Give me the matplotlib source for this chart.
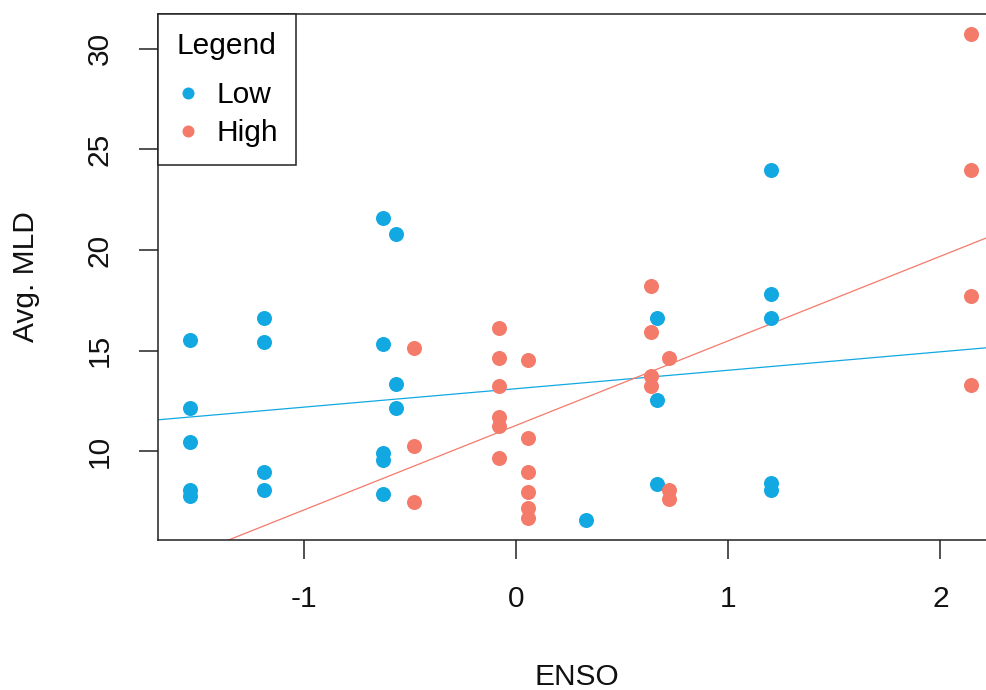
import numpy as np
import matplotlib
matplotlib.use("Agg")
import matplotlib.pyplot as plt

plt.rcParams['font.family'] = ['Liberation Sans', 'DejaVu Sans']

# ENSO index vs. average mixed layer depth, split by group
low_enso = [-1.538, -1.538, -1.538, -1.538, -1.538,
            -1.189, -1.189, -1.189, -1.189,
            -0.631, -0.631, -0.631, -0.631, -0.631,
            -0.566, -0.566, -0.566,
            0.330,
            0.662, 0.662, 0.662,
            1.200, 1.200, 1.200, 1.200, 1.200]
low_mld = [15.53, 12.15, 10.46, 8.07, 7.77,
           16.61, 15.41, 8.98, 8.07,
           21.58, 15.31, 9.90, 9.56, 7.86,
           20.80, 13.33, 12.13,
           6.58,
           16.63, 12.54, 8.37,
           23.98, 17.81, 16.64, 8.43, 8.07]

high_enso = [-0.481, -0.481, -0.481,
             -0.083, -0.083, -0.083, -0.083, -0.083, -0.083,
             0.055, 0.055, 0.055, 0.055, 0.055, 0.055,
             0.635, 0.635, 0.635, 0.635,
             0.718, 0.718, 0.718,
             2.145, 2.145, 2.145, 2.145]
high_mld = [15.11, 10.26, 7.46,
            16.11, 14.62, 13.24, 11.68, 11.25, 9.65,
            14.53, 10.67, 8.95, 7.96, 7.16, 6.67,
            18.21, 15.91, 13.74, 13.24,
            14.62, 8.07, 7.62,
            30.74, 23.98, 17.70, 13.31]

group_names = ["Low", "High"]
group_colors = ["#12A8E2", "#F47A6A"]

x_ticks = [-1, 0, 1, 2]
y_ticks = [10, 15, 20, 25, 30]

W, H = 987, 690
fig = plt.figure(figsize=(W / 100, H / 100), dpi=100)
left, right, bottom, top = 158, 1001.4, 540, 14
ax = fig.add_axes([left / W, 1 - bottom / H, (right - left) / W, (bottom - top) / H])

xlim = (-1.690, 2.288)
ylim = (5.586, 31.73)
ax.set_xlim(*xlim)
ax.set_ylim(*ylim)

fs = 21.5
groups = [(low_enso, low_mld), (high_enso, high_mld)]
for (xs, ys), name, col in zip(groups, group_names, group_colors):
    ax.plot(xs, ys, linestyle='none', marker='o', markersize=10.8,
            markeredgewidth=0, color=col, label=name, zorder=3)

# least-squares trend line for each group, spanning the full plot width
xx = np.array(xlim)
for (xs, ys), col in zip(groups, group_colors):
    slope, intercept = np.polyfit(xs, ys, 1)
    ax.plot(xx, intercept + slope * xx, color=col, lw=0.9, zorder=2)

for s in ax.spines.values():
    s.set_linewidth(1.1)
    s.set_color('#222222')

ax.set_xticks(x_ticks)
ax.set_xticklabels([str(t) for t in x_ticks])
ax.set_yticks(y_ticks)
ax.set_yticklabels([str(t) for t in y_ticks], rotation=90, va='center')
ax.tick_params(axis='both', length=13.7, width=1.1, color='#222222',
               labelsize=fs, labelcolor='#111111')
ax.tick_params(axis='x', pad=19)
ax.tick_params(axis='y', pad=18)

ax.set_xlabel("ENSO", fontsize=fs, color='#111111')
ax.xaxis.set_label_coords((577 - left) / (right - left), (bottom - 677) / (bottom - top))
ax.xaxis.label.set_va('center')
ax.set_ylabel("Avg. MLD", fontsize=fs, color='#111111')
ax.yaxis.set_label_coords((26 - left) / (right - left), 0.5)
ax.yaxis.label.set_va('center')

leg = ax.legend(title="Legend", loc='upper left', bbox_to_anchor=(0, 1),
                borderaxespad=0, fontsize=fs, title_fontsize=fs,
                fancybox=False, edgecolor='#222222', framealpha=1,
                handlelength=0.84, handletextpad=0.51, borderpad=0.6,
                labelspacing=0.33, markerscale=0.8)
leg._legend_box.sep = 0.33 * fs + 8.2
leg.get_frame().set_linewidth(1.1)

fig.savefig("out.png", dpi=100)
